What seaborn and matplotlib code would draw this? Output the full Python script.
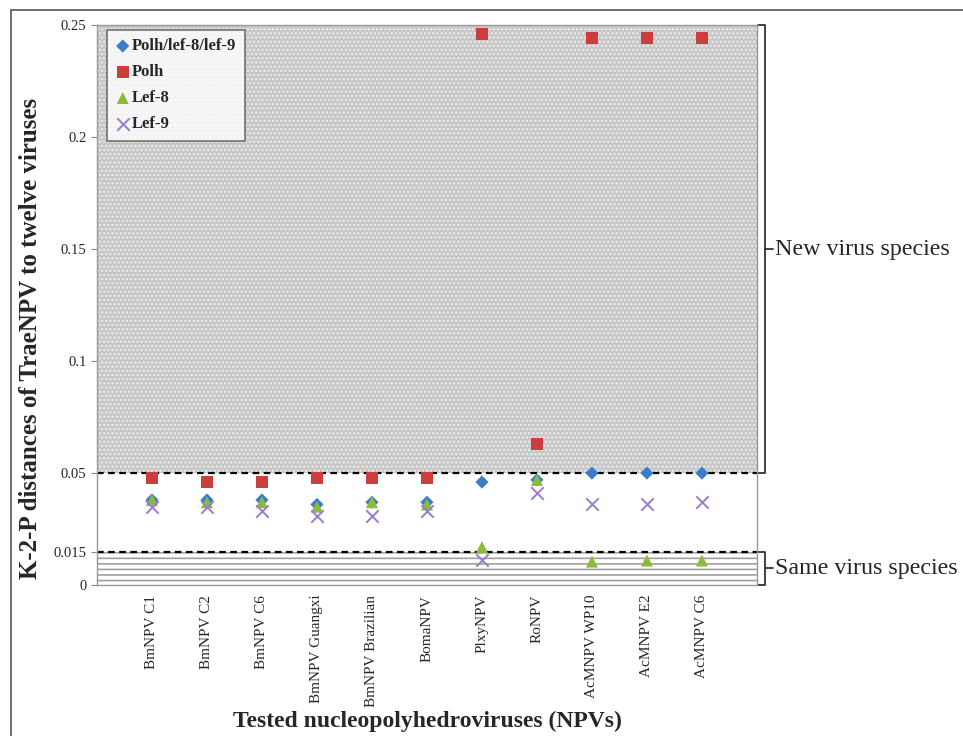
import matplotlib
matplotlib.use("Agg")
import matplotlib.pyplot as plt
import seaborn as sns
import pandas as pd
from matplotlib.lines import Line2D
from matplotlib.patches import Rectangle

# Tested viruses (x axis)
viruses = ["BmNPV C1", "BmNPV C2", "BmNPV C6", "BmNPV Guangxi", "BmNPV Brazilian",
           "BomaNPV", "PlxyNPV", "RoNPV", "AcMNPV WP10", "AcMNPV E2", "AcMNPV C6"]

# K-2-P distances
polh_lef8_lef9 = [0.038, 0.038, 0.038, 0.036, 0.037, 0.037, 0.046, 0.047, 0.050, 0.050, 0.050]
polh = [0.048, 0.046, 0.046, 0.048, 0.048, 0.048, 0.246, 0.063, 0.244, 0.244, 0.244]
lef8 = [0.038, 0.037, 0.037, 0.035, 0.037, 0.036, 0.017, 0.047, 0.0105, 0.011, 0.011]
lef9 = [0.035, 0.035, 0.033, 0.031, 0.031, 0.033, 0.011, 0.041, 0.036, 0.036, 0.037]

y_ticks = [0, 0.015, 0.05, 0.1, 0.15, 0.2, 0.25]
y_tick_labels = ["0", "0.015", "0.05", "0.1", "0.15", "0.2", "0.25"]
new_species_limit = 0.05
same_species_limit = 0.015

sns.set_style("white")
plt.rcParams['font.family'] = ['Liberation Serif', 'DejaVu Serif']
plt.rcParams['hatch.linewidth'] = 1.2

x_pos = list(range(1, len(viruses) + 1))

fig = plt.figure(figsize=(9.63, 7.36), dpi=100)
ax = fig.add_axes([0.1007, 0.205, 0.6853, 0.761])

# shaded zones
ax.axhspan(new_species_limit, 0.25, facecolor="#c6c6c6", edgecolor="#ededed",
           hatch="....", lw=0, zorder=0)
ax.axhspan(0, same_species_limit, facecolor="white", edgecolor="#a0a0a0",
           hatch="---", lw=0, zorder=0)
ax.axhline(new_species_limit, color="black", ls=(0, (3, 2)), lw=1.6, zorder=1)
ax.axhline(same_species_limit, color="black", ls=(0, (3, 2)), lw=1.6, zorder=1)

series = [
    ("Polh/lef-8/lef-9", polh_lef8_lef9, "D", "#3d7cc9", 45),
    ("Polh", polh, "s", "#cc3d3d", 75),
    ("Lef-8", lef8, "^", "#8cbb3c", 75),
    ("Lef-9", lef9, "x", "#9a7dc9", 80),
]
for name, vals, mk, col, size in series:
    df = pd.DataFrame({"x": x_pos, "y": vals})
    if mk == "x":
        sns.scatterplot(data=df, x="x", y="y", marker=mk, color=col, s=size,
                        linewidth=1.4, ax=ax, label=name, zorder=3)
    else:
        sns.scatterplot(data=df, x="x", y="y", marker=mk, color=col, s=size,
                        edgecolor="none", ax=ax, label=name, zorder=3)

ax.set_xlim(0, len(viruses) + 1)
ax.set_ylim(0, 0.25)
ax.set_yticks(y_ticks)
ax.set_yticklabels(y_tick_labels, fontsize=10.5)
ax.set_xticks(x_pos)
ax.set_xticklabels(viruses, rotation=90, fontsize=11)
ax.tick_params(axis="y", left=True, length=4, color="#888888")
ax.tick_params(axis="x", bottom=False)
for sp in ax.spines.values():
    sp.set_color("#999999")
    sp.set_linewidth(1.0)

ax.set_ylabel("K-2-P distances of TraeNPV to twelve viruses", fontsize=18,
              fontweight="bold")
ax.yaxis.set_label_coords(-0.083, 0.44)
ax.set_xlabel("Tested nucleopolyhedroviruses (NPVs)", fontsize=17,
              fontweight="bold")
ax.xaxis.set_label_coords(0.5, -0.224)

leg = ax.legend(loc="upper left", bbox_to_anchor=(0.015, 0.991), frameon=True,
                fancybox=False, fontsize=12, handletextpad=0.1,
                borderpad=0.5, labelspacing=0.6, handlelength=0.9,
                borderaxespad=0)
leg.get_frame().set_edgecolor("#555555")
leg.get_frame().set_linewidth(1.2)
for t in leg.get_texts():
    t.set_fontweight("bold")

# brackets on the right side
trans = ax.get_yaxis_transform()
def bracket(y0, y1, text):
    xa, xb, xc = 1.002, 1.012, 1.025
    ym = (y0 + y1) / 2
    ax.add_line(Line2D([xa, xb, xb, xa], [y1, y1, y0, y0], transform=trans,
                       color="#333333", lw=1.3, clip_on=False))
    ax.add_line(Line2D([xb, xc], [ym, ym], transform=trans,
                       color="#333333", lw=1.3, clip_on=False))
    ax.text(xc + 0.003, ym, text, transform=trans, fontsize=17.3,
            va="center", ha="left")

bracket(new_species_limit, 0.25, "New virus species")
bracket(0, same_species_limit, "Same virus species")

# frame around the figure
fig.patches.append(Rectangle((0.011, -0.01), 1.2, 0.997, transform=fig.transFigure,
                             fill=False, edgecolor="#555555", lw=1.2))

fig.savefig("out.png", dpi=100)
